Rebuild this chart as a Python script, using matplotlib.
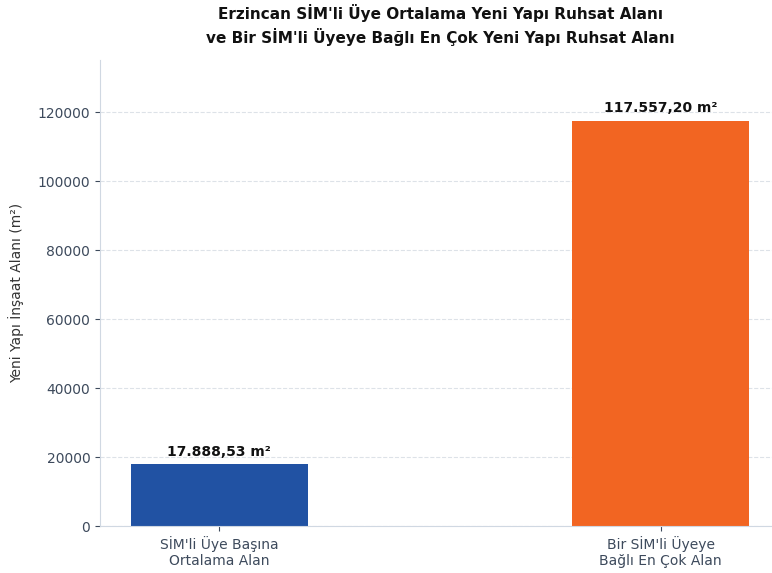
import matplotlib
matplotlib.use("Agg")
import matplotlib.pyplot as plt

categories = ["SİM'li Üye Başına\nOrtalama Alan", "Bir SİM'li Üyeye\nBağlı En Çok Alan"]
values = [17888.53, 117557.20]
value_labels = ["17.888,53 m²", "117.557,20 m²"]
colors = ["#2152a3", "#f26522"]
yticks = [0, 20000, 40000, 60000, 80000, 100000, 120000]

plt.rcParams['font.family'] = ['DejaVu Sans']

fig = plt.figure(figsize=(7.72, 5.73), dpi=100)
ax = fig.add_axes([100/772, 47/573, 680/772, 466/573])

x = list(range(len(categories)))
bars = ax.bar(x, values, width=0.4, color=colors)
ax.set_ylim(0, max(values) * 1.15)
ax.set_xlim(-0.27, 1.27)
ax.set_xticks(x)
ax.set_xticklabels(categories, fontsize=10, color="#3d4a5c")
ax.set_yticks(yticks)
ax.tick_params(axis='y', labelsize=10, colors="#3d4a5c")
ax.tick_params(axis='x', colors="#3d4a5c")
for t in ax.get_yticklabels():
    t.set_color("#3d4a5c")
ax.set_ylabel("Yeni Yapı İnşaat Alanı (m²)", fontsize=10, color="#333333", labelpad=10)
ax.yaxis.grid(True, linestyle='--', color="#dde2e8", linewidth=0.8)
ax.set_axisbelow(True)
for s in ['top', 'right']:
    ax.spines[s].set_visible(False)
for s in ['left', 'bottom']:
    ax.spines[s].set_color("#d0d8e2")

for b, lab in zip(bars, value_labels):
    ax.annotate(lab, (b.get_x() + b.get_width() / 2, b.get_height()),
                xytext=(0, 4), textcoords='offset points', ha='center', va='bottom',
                fontsize=10, fontweight='bold', color="#111111")

fig.text((100 + 780) / 2 / 772, 1 - 25 / 573,
         "Erzincan SİM'li Üye Ortalama Yeni Yapı Ruhsat Alanı\nve Bir SİM'li Üyeye Bağlı En Çok Yeni Yapı Ruhsat Alanı",
         ha='center', va='center', fontsize=11, fontweight='bold', linespacing=1.4,
         color="#111111", family=['DejaVu Sans'])

fig.savefig("out.png", dpi=100)
